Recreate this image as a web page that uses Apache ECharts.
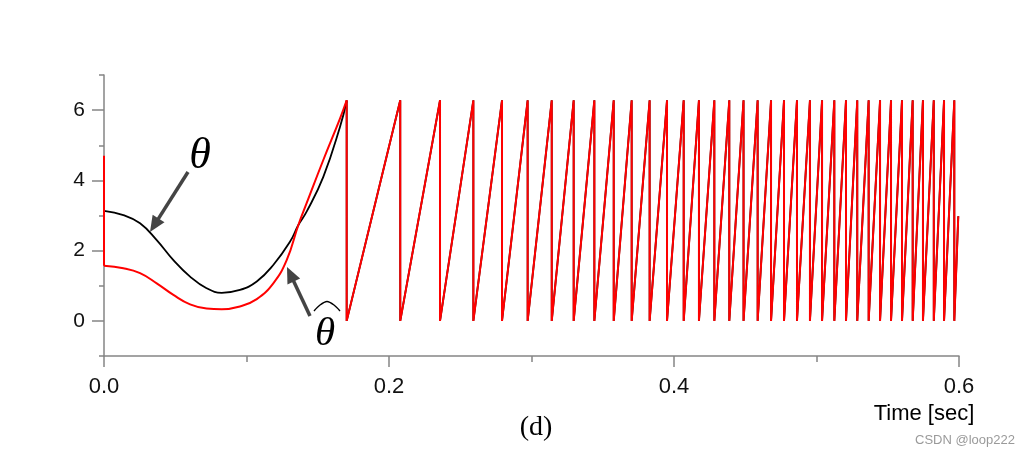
<!DOCTYPE html>
<html>
<head>
<meta charset="utf-8">
<script src="https://cdn.jsdelivr.net/npm/echarts@6/dist/echarts.min.js"></script>
<style>
html,body{margin:0;padding:0;background:#fff;}
#chart{width:1029px;height:456px;}
</style>
</head>
<body>
<div id="chart"></div>
<script>
// ---- data ----
// black curve (theta) before the first wrap: [time, value]
var thetaEarly = [
  [0.0000, 3.13], [0.0136, 3.01], [0.0253, 2.78], [0.0370, 2.30], [0.0487, 1.73],
  [0.0604, 1.26], [0.0720, 0.93], [0.0826, 0.80], [0.0954, 0.88], [0.1072, 1.12],
  [0.1188, 1.59], [0.1305, 2.25], [0.1364, 2.73], [0.1422, 3.11], [0.1539, 4.10],
  [0.1656, 5.52], [0.1703, 6.26]
];
// red curve (theta hat): initial jump at t = 0, then the curve before the first wrap
var thetaHatJump = [[0.0000, 4.70], [0.0000, 1.57]];
var thetaHatEarly = [
  [0.0000, 1.57], [0.0136, 1.50], [0.0253, 1.36], [0.0370, 1.07],
  [0.0487, 0.74], [0.0604, 0.47], [0.0720, 0.35], [0.0826, 0.33], [0.0954, 0.41],
  [0.1072, 0.62], [0.1188, 1.07], [0.1282, 1.73], [0.1364, 2.73], [0.1422, 3.35],
  [0.1539, 4.58], [0.1656, 5.76], [0.1703, 6.28]
];
// times at which the angle wraps from 2*pi back to 0
var wrapTimes = [
  0.1703, 0.2079, 0.2358, 0.2592, 0.2793, 0.2973, 0.3142, 0.3296, 0.3441, 0.3577,
  0.3703, 0.3829, 0.3951, 0.4068, 0.4175, 0.4283, 0.4388, 0.4488, 0.4587, 0.4681,
  0.4772, 0.4863, 0.4954, 0.5039, 0.5125, 0.5207, 0.5286, 0.5366, 0.5446, 0.5523,
  0.5600, 0.5675, 0.5747, 0.5823, 0.5895, 0.5967
];
var wrapTop = 6.28;
var wrapBottom = 0;
var lastPoint = [0.5995, 2.98];
var yTicks = [0, 2, 4, 6];

function sawtooth() {
  var pts = [];
  for (var i = 0; i < wrapTimes.length; i++) {
    pts.push([wrapTimes[i], wrapTop]);
    pts.push([wrapTimes[i], wrapBottom]);
  }
  pts.push(lastPoint);
  return pts;
}

var chart = echarts.init(document.getElementById('chart'), null, {renderer: 'canvas'});

function arrow(x1, y1, x2, y2, headLen, headHalf, color, width) {
  var dx = x2 - x1, dy = y2 - y1;
  var L = Math.sqrt(dx * dx + dy * dy);
  var ux = dx / L, uy = dy / L;
  var bx = x2 - headLen * ux, by = y2 - headLen * uy;
  var px = -uy, py = ux;
  return [
    {type: 'line', shape: {x1: x1, y1: y1, x2: bx + ux * 2, y2: by + uy * 2},
     style: {stroke: color, lineWidth: width}, z: 100},
    {type: 'polygon', shape: {points: [[x2, y2], [bx + px * headHalf, by + py * headHalf], [bx - px * headHalf, by - py * headHalf]]},
     style: {fill: color}, z: 100}
  ];
}

var axisColor = '#858585';
var labelFont = '"Liberation Sans", Arial, sans-serif';
var serifFont = '"Liberation Serif", "DejaVu Serif", serif';

var graphics = []
  .concat(arrow(188, 172, 150, 232, 16, 7, '#444444', 3.5))
  .concat(arrow(310, 316, 287, 267, 16, 7, '#444444', 3.5))
  .concat([
    {type: 'text', x: 200, y: 156, z: 100,
     style: {text: 'θ', font: 'italic 44px ' + serifFont, fill: '#000',
             align: 'center', verticalAlign: 'middle'}},
    {type: 'text', x: 325, y: 334, z: 100,
     style: {text: 'θ', font: 'italic 41px ' + serifFont, fill: '#000',
             align: 'center', verticalAlign: 'middle'}},
    {type: 'polyline', z: 100, shape: {points: [[314, 311], [320, 305], [327, 301.5], [334, 305], [340, 311]], smooth: 0.3},
     style: {stroke: '#000', lineWidth: 1.4, fill: null}},
    {type: 'text', x: 536, y: 428, z: 100,
     style: {text: '(d)', font: '28px ' + serifFont, fill: '#000',
             align: 'center', verticalAlign: 'middle'}},
    {type: 'text', x: 924, y: 414, z: 100,
     style: {text: 'Time [sec]', font: '22px ' + labelFont, fill: '#000',
             align: 'center', verticalAlign: 'middle'}},
    {type: 'text', x: 965, y: 440, z: 100,
     style: {text: 'CSDN @loop222', font: '13px ' + labelFont, fill: '#9a9a9a',
             align: 'center', verticalAlign: 'middle'}}
  ]);

function lineSeries(name, data, color, width, smooth, z) {
  return {
    name: name, type: 'line', data: data, yAxisIndex: 0,
    showSymbol: false, symbol: 'none', smooth: smooth,
    lineStyle: {color: color, width: width}, z: z
  };
}

var option = {
  animation: false,
  backgroundColor: '#ffffff',
  grid: {left: 104, right: 70, top: 75, bottom: 100, containLabel: false},
  xAxis: [{
    type: 'value', min: 0, max: 0.6, interval: 0.2,
    axisLine: {show: true, onZero: false, lineStyle: {color: axisColor, width: 1.5}},
    axisTick: {show: true, length: 11, lineStyle: {color: axisColor, width: 1.5}},
    minorTick: {show: true, splitNumber: 2, length: 6, lineStyle: {color: axisColor, width: 1.5}},
    axisLabel: {margin: 20, color: '#111', fontSize: 22, fontFamily: labelFont,
                formatter: function (v) { return v.toFixed(1); }},
    splitLine: {show: false}, minorSplitLine: {show: false}
  }],
  yAxis: [{
    type: 'value', min: -1, max: 7, position: 'left',
    axisLine: {show: true, onZero: false, lineStyle: {color: axisColor, width: 1.5}},
    axisTick: {show: true, length: 12, customValues: yTicks, lineStyle: {color: axisColor, width: 1.5}},
    axisLabel: {margin: 19, color: '#111', fontSize: 21, fontFamily: labelFont, customValues: yTicks},
    splitLine: {show: false}
  }, {
    type: 'value', min: -1, max: 7, interval: 1, position: 'left', offset: 0,
    axisLine: {show: false, onZero: false},
    axisTick: {show: true, length: 5, lineStyle: {color: axisColor, width: 1.5}},
    axisLabel: {show: false},
    splitLine: {show: false}
  }],
  series: [
    lineSeries('theta', thetaEarly, '#000000', 1.8, 0.45, 2),
    lineSeries('theta wrap', sawtooth(), '#000000', 1.8, false, 2),
    lineSeries('theta_hat jump', thetaHatJump, '#ff0000', 2, false, 3),
    lineSeries('theta_hat', thetaHatEarly, '#ff0000', 2, 0.45, 3),
    lineSeries('theta_hat wrap', sawtooth(), '#ff0000', 2, false, 3)
  ],
  graphic: graphics
};
chart.setOption(option);
</script>
</body>
</html>
